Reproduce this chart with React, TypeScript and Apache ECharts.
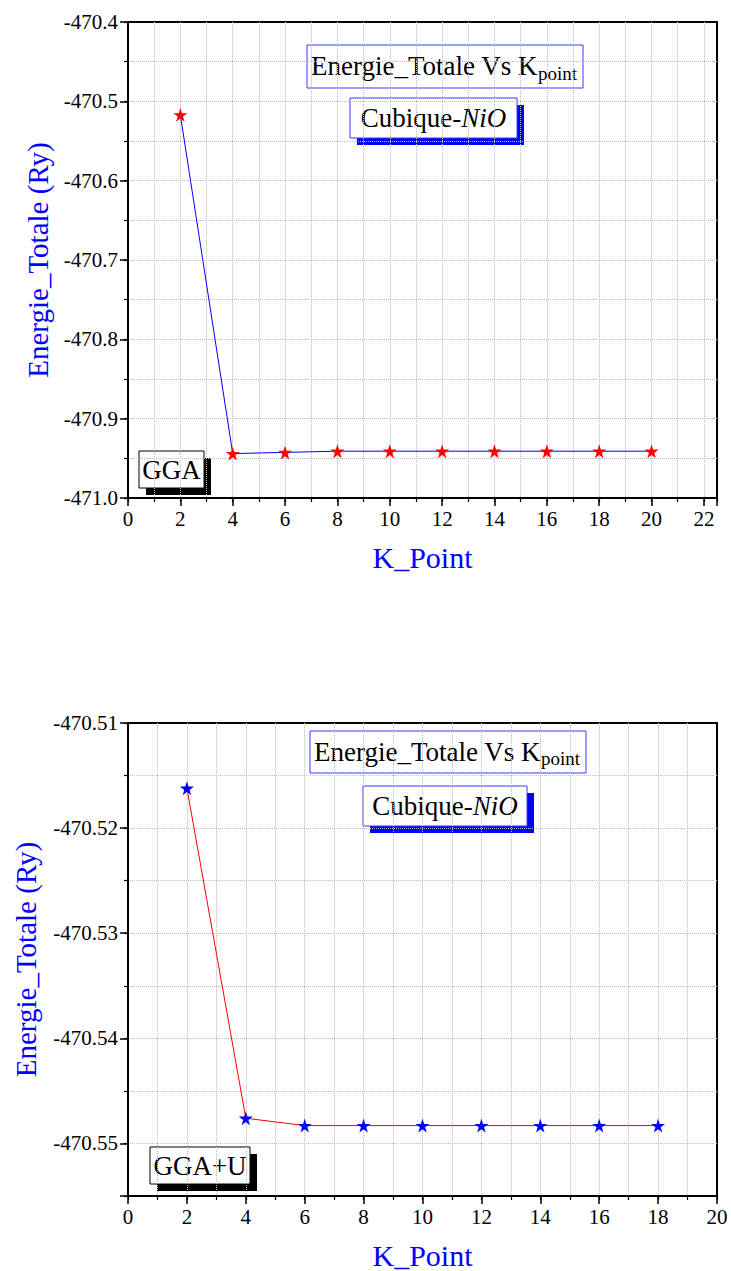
import React, { useEffect, useRef } from 'react';
import * as echarts from 'echarts';

// ---------- data ----------
const kGGA = [2, 4, 6, 8, 10, 12, 14, 16, 18, 20];
const eGGA = [-470.517, -470.944, -470.9425, -470.941, -470.941, -470.941, -470.941, -470.941, -470.941, -470.941];

const kGGAU = [2, 4, 6, 8, 10, 12, 14, 16, 18];
const eGGAU = [-470.5162, -470.5476, -470.5483, -470.5483, -470.5483, -470.5483, -470.5483, -470.5483, -470.5483];

const topXRange = [0, 22.5];
const topYRange = [-471.0, -470.4];
const botXRange = [0, 20];
const botYRange = [-470.555, -470.51];
const botYLabels = ['-470.51', '-470.52', '-470.53', '-470.54', '-470.55'];

const FONT = 'Liberation Serif';
const BLUE = '#0000ff';
const STAR = 'path://M50,0 L61,35 L98,35 L68,57 L79,91 L50,70 L21,91 L32,57 L2,35 L39,35 Z';

const majorTick = { show: true, inside: false, length: 8, lineStyle: { color: '#000', width: 1.5 } };
const minorTick = { show: true, inside: false, length: 4, lineStyle: { color: '#000', width: 1.2 } };
const gridSplit = { show: true, showMinLine: false, showMaxLine: false, lineStyle: { color: '#bdbdbd', type: 'dotted', width: 1 } };
const labelStyle = { color: '#000', fontSize: 21, fontFamily: FONT, margin: 10 };

function majorX(gridIndex: number, range: number[]) {
  return {
    type: 'value', gridIndex, position: 'bottom', min: range[0], max: range[1], interval: 2,
    axisLine: { show: true, onZero: false, lineStyle: { color: '#000', width: 2 } },
    axisTick: majorTick,
    axisLabel: { ...labelStyle, formatter: (v: number) => (Number.isInteger(v) && v % 2 === 0 ? String(v) : '') },
    splitLine: { show: false },
    name: 'K_Point', nameLocation: 'middle', nameGap: 44,
    nameTextStyle: { color: BLUE, fontSize: 30, fontFamily: FONT },
  };
}
function minorX(gridIndex: number, range: number[]) {
  return {
    type: 'value', gridIndex, position: 'bottom', min: range[0], max: range[1], interval: 1,
    axisLine: { show: false, onZero: false }, axisTick: minorTick, axisLabel: { show: false }, splitLine: gridSplit,
  };
}

export default function App() {
  const ref = useRef<HTMLDivElement>(null);
  useEffect(() => {
    document.body.style.margin = '0';
    document.body.style.overflow = 'hidden';
    const chart = echarts.init(ref.current!, null, { renderer: 'svg' });

    const titleMain = 'Energie_Totale Vs K';
    const textBox = (x: number, y: number, w: number, h: number, stroke: string, shadow: string, off: number, content: any) => ({
      type: 'group', z: 20, children: [
        ...(shadow ? [{ type: 'rect', shape: { x: x + off, y: y + off, width: w, height: h }, style: { fill: shadow } }] : []),
        { type: 'rect', shape: { x, y, width: w, height: h }, style: { fill: '#fff', stroke, lineWidth: 1 } },
        { type: 'text', x: x + w / 2, y: y + h / 2, style: { ...content, align: 'center', verticalAlign: 'middle' } },
      ],
    });
    const titleBox = (x: number, y: number, w: number, h: number) => ({
      type: 'group', z: 20, children: [
        { type: 'rect', shape: { x, y, width: w, height: h }, style: { fill: '#fff', stroke: '#3a3aff', lineWidth: 1 } },
        { type: 'text', x: x + 4, y: y + h / 2 + 1, style: { text: `{a|${titleMain}}{b|point}`, align: 'left', verticalAlign: 'middle',
          rich: { a: { fontSize: 27, fontFamily: FONT, fill: '#000', lineHeight: 30, verticalAlign: 'top' },
                  b: { fontSize: 19, fontFamily: FONT, fill: '#000', lineHeight: 20, verticalAlign: 'bottom' } } } },
      ],
    });
    const cubique = { text: '{r|Cubique-}{i|NiO}', rich: {
      r: { fontSize: 27, fontFamily: FONT, fill: '#000' },
      i: { fontSize: 27, fontFamily: FONT, fontStyle: 'italic', fill: '#000' } } };

    chart.setOption({
      animation: false,
      backgroundColor: '#fff',
      grid: [
        { left: 128, top: 22, width: 589, height: 476, show: true, borderColor: '#000', borderWidth: 2 },
        { left: 128, top: 723, width: 589, height: 474, show: true, borderColor: '#000', borderWidth: 2 },
      ],
      xAxis: [majorX(0, topXRange), minorX(0, topXRange), majorX(1, botXRange), minorX(1, botXRange)],
      yAxis: [
        {
          type: 'value', gridIndex: 0, position: 'left', min: topYRange[0], max: topYRange[1], interval: 0.1,
          axisLine: { show: true, onZero: false, lineStyle: { color: '#000', width: 2 } }, axisTick: majorTick,
          axisLabel: { ...labelStyle, formatter: (v: number) => v.toFixed(1) }, splitLine: { show: false },
          name: 'Energie_Totale (Ry)', nameLocation: 'middle', nameGap: 74,
          nameTextStyle: { color: BLUE, fontSize: 29, fontFamily: FONT },
        },
        {
          type: 'value', gridIndex: 0, position: 'left', min: topYRange[0], max: topYRange[1], interval: 0.05,
          axisLine: { show: false, onZero: false }, axisTick: minorTick, axisLabel: { show: false }, splitLine: gridSplit,
        },
        {
          type: 'value', gridIndex: 1, position: 'left', min: 0, max: 4.5, interval: 1, inverse: true,
          axisLine: { show: true, onZero: false, lineStyle: { color: '#000', width: 2 } }, axisTick: majorTick,
          axisLabel: { ...labelStyle, formatter: (u: number) => (Number.isInteger(u) ? botYLabels[u] ?? '' : '') },
          splitLine: { show: false },
          name: 'Energie_Totale (Ry)', nameLocation: 'middle', nameGap: 88,
          nameTextStyle: { color: BLUE, fontSize: 29, fontFamily: FONT },
        },
        {
          type: 'value', gridIndex: 1, position: 'left', min: botYRange[0], max: botYRange[1], interval: 0.005,
          axisLine: { show: false, onZero: false }, axisTick: minorTick, axisLabel: { show: false }, splitLine: gridSplit,
        },
      ],
      series: [
        {
          type: 'line', xAxisIndex: 0, yAxisIndex: 1, data: kGGA.map((k, i) => [k, eGGA[i]]),
          symbol: STAR, symbolSize: 14, itemStyle: { color: '#ff0000' }, lineStyle: { color: BLUE, width: 1 }, z: 5,
        },
        {
          type: 'line', xAxisIndex: 2, yAxisIndex: 3, data: kGGAU.map((k, i) => [k, eGGAU[i]]),
          symbol: STAR, symbolSize: 14, itemStyle: { color: BLUE }, lineStyle: { color: '#ff0000', width: 1 }, z: 5,
        },
      ],
      graphic: [
        titleBox(307, 45, 276, 43),
        textBox(350, 98, 167, 40, '#3a3aff', BLUE, 7, cubique),
        textBox(139, 451, 65, 37, '#000', '#000', 7, { text: 'GGA', fontSize: 27, fontFamily: FONT, fill: '#000' }),
        titleBox(310, 731, 276, 42),
        textBox(363, 786, 164, 40, '#3a3aff', BLUE, 7, cubique),
        textBox(150, 1147, 100, 37, '#000', '#000', 7, { text: 'GGA+U', fontSize: 27, fontFamily: FONT, fill: '#000' }),
      ],
    });
    return () => chart.dispose();
  }, []);
  return <div ref={ref} style={{ position: 'absolute', left: 0, top: 0, width: 731, height: 1271 }} />;
}
